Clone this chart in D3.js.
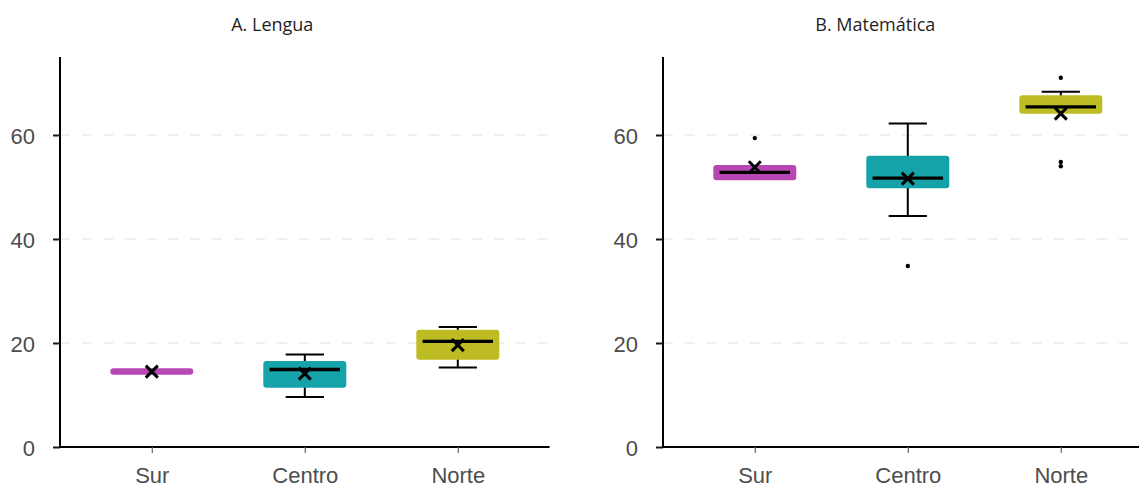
<!DOCTYPE html>
<html>
<head>
<meta charset="utf-8">
<script src="https://cdn.jsdelivr.net/npm/d3@7"></script>
<style>
  html, body { margin: 0; padding: 0; background: #ffffff; }
  svg { display: block; }
</style>
</head>
<body>
<svg id="chart" width="1139" height="487"></svg>
<script>
// Regions along the x axis
const categories = ["Sur", "Centro", "Norte"];
const boxColors = ["#b847b4", "#15a3a9", "#bdbd23"];
const yTicks = [0, 20, 40, 60];
const panelTitles = ["A. Lengua", "B. Matemática"];

// A. Lengua — box summaries per region
const lenguaQ1 = [14.5, 12.0, 17.4];
const lenguaMedian = [14.5, 14.9, 20.3];
const lenguaQ3 = [14.5, 15.9, 21.9];
const lenguaLow = [14.5, 9.6, 15.3];
const lenguaHigh = [14.5, 17.8, 23.1];
const lenguaMean = [14.5, 14.1, 19.6];
const lenguaOutliers = [[], [], []];

// B. Matemática — box summaries per region
const mateQ1 = [51.9, 50.4, 64.7];
const mateMedian = [52.8, 51.7, 65.4];
const mateQ3 = [53.6, 55.4, 67.0];
const mateLow = [51.9, 44.4, 64.7];
const mateHigh = [53.6, 62.2, 68.3];
const mateMean = [53.8, 51.6, 64.1];
const mateOutliers = [[59.4], [34.8], [71.0, 54.8, 54.0]];

function rows(q1, med, q3, lo, hi, mean, out) {
  return categories.map((c, i) => ({
    cat: c, color: boxColors[i], q1: q1[i], median: med[i], q3: q3[i],
    low: lo[i], high: hi[i], mean: mean[i], outliers: out[i]
  }));
}

const panels = [
  { title: panelTitles[0], data: rows(lenguaQ1, lenguaMedian, lenguaQ3, lenguaLow, lenguaHigh, lenguaMean, lenguaOutliers), left: 60 },
  { title: panelTitles[1], data: rows(mateQ1, mateMedian, mateQ3, mateLow, mateHigh, mateMean, mateOutliers), left: 663 }
];

const svg = d3.select("#chart");
const plotTop = 57, plotBottom = 447, plotWidth = 489.6;
const y = d3.scaleLinear().domain([0, 75]).range([plotBottom, plotTop]);

const tickFont = "'Liberation Sans', Arial, sans-serif";
const titleFont = "'Open Sans', 'Noto Sans', sans-serif";

panels.forEach(p => {
  const g = svg.append("g");
  const x = d3.scalePoint().domain(categories)
    .range([p.left, p.left + plotWidth]).padding(0.6);
  const step = x.step();
  const boxW = step * 0.5;
  const capW = step * 0.25;
  const right = p.left + plotWidth;

  // Title
  g.append("text")
    .attr("x", ((p.left - 60) + right) / 2 - 2.5)
    .attr("y", 31)
    .attr("text-anchor", "middle")
    .attr("font-family", titleFont)
    .attr("font-size", 18)
    .attr("fill", "#1f1f1f")
    .text(p.title);

  // Horizontal dashed gridlines
  g.selectAll("line.grid").data(yTicks.filter(t => t > 0)).join("line")
    .attr("class", "grid")
    .attr("x1", p.left).attr("x2", right)
    .attr("y1", d => y(d)).attr("y2", d => y(d))
    .attr("stroke", "#ebebeb").attr("stroke-width", 1.4)
    .attr("stroke-dasharray", "10,11.7");

  // Y axis
  const yAxis = g.append("g").attr("transform", `translate(${p.left},0)`)
    .call(d3.axisLeft(y).tickValues(yTicks).tickSize(7).tickPadding(18));
  yAxis.select(".domain").attr("d", `M0,${plotTop}V${plotBottom}`)
    .attr("stroke", "#000").attr("stroke-width", 2);
  yAxis.selectAll(".tick line").attr("stroke", "#1a1a1a").attr("stroke-width", 2);
  yAxis.selectAll(".tick text")
    .attr("font-family", tickFont).attr("font-size", 22)
    .attr("fill", "#4d4d4d").attr("dy", "0.38em");

  // X axis
  const xAxis = g.append("g").attr("transform", `translate(0,${plotBottom})`)
    .call(d3.axisBottom(x).tickSize(6).tickPadding(14));
  xAxis.select(".domain").attr("d", `M${p.left - 1},0H${right}`)
    .attr("stroke", "#000").attr("stroke-width", 2);
  xAxis.selectAll(".tick line").attr("stroke", "#666").attr("stroke-width", 1.2);
  xAxis.selectAll(".tick text")
    .attr("font-family", tickFont).attr("font-size", 22)
    .attr("fill", "#4d4d4d");

  const boxes = g.selectAll("g.box").data(p.data).join("g")
    .attr("class", "box")
    .attr("transform", d => `translate(${x(d.cat)},0)`);

  // Whiskers and caps
  boxes.each(function (d) {
    const b = d3.select(this);
    if (d.high > d.q3) {
      b.append("line").attr("x1", 0).attr("x2", 0)
        .attr("y1", y(d.q3)).attr("y2", y(d.high))
        .attr("stroke", "#000").attr("stroke-width", 2);
      b.append("line").attr("x1", -capW / 2).attr("x2", capW / 2)
        .attr("y1", y(d.high)).attr("y2", y(d.high))
        .attr("stroke", "#000").attr("stroke-width", 2);
    }
    if (d.low < d.q1) {
      b.append("line").attr("x1", 0).attr("x2", 0)
        .attr("y1", y(d.q1)).attr("y2", y(d.low))
        .attr("stroke", "#000").attr("stroke-width", 2);
      b.append("line").attr("x1", -capW / 2).attr("x2", capW / 2)
        .attr("y1", y(d.low)).attr("y2", y(d.low))
        .attr("stroke", "#000").attr("stroke-width", 2);
    }
  });

  // Box body with rounded outline in the fill colour
  boxes.append("path")
    .attr("d", d => {
      const y0 = y(d.q3), y1 = y(d.q1);
      return `M${-boxW / 2},${y0}H${boxW / 2}V${y1}H${-boxW / 2}Z`;
    })
    .attr("fill", d => d.color)
    .attr("stroke", d => d.color)
    .attr("stroke-width", 6.5)
    .attr("stroke-linejoin", "round");

  // Median line (a collapsed box is shown as a single band)
  boxes.filter(d => d.q3 > d.q1).append("line")
    .attr("x1", -boxW / 2 + 3).attr("x2", boxW / 2 - 3)
    .attr("y1", d => y(d.median)).attr("y2", d => y(d.median))
    .attr("stroke", "#000").attr("stroke-width", 3.3);

  // Mean marker
  const m = 6;
  boxes.append("path")
    .attr("d", d => {
      const cy = y(d.mean);
      return `M${-m},${cy - m}L${m},${cy + m}M${-m},${cy + m}L${m},${cy - m}`;
    })
    .attr("stroke", "#000").attr("stroke-width", 3).attr("fill", "none");

  // Outliers
  boxes.selectAll("circle").data(d => d.outliers).join("circle")
    .attr("cx", 0).attr("cy", d => y(d)).attr("r", 2.2).attr("fill", "#000");
});
</script>
</body>
</html>
